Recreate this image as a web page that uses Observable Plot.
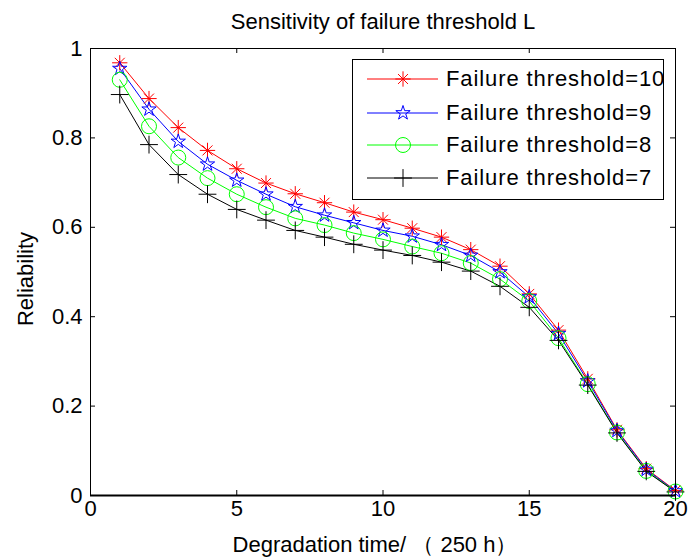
<!DOCTYPE html>
<html><head><meta charset="utf-8">
<script src="https://cdn.jsdelivr.net/npm/d3@7"></script>
<script src="https://cdn.jsdelivr.net/npm/@observablehq/plot@0.6"></script>
<style>
body{margin:0;background:#fff;}
#wrap{position:relative;width:688px;height:559px;font-family:"Liberation Sans",Arial,sans-serif;}
#legend{position:absolute;left:352px;top:59px;width:310px;height:139px;border:1px solid #000;background:#fff;}
.row{position:absolute;left:0;height:34px;width:310px;font-size:22px;color:#000;}
.row svg{position:absolute;left:14px;top:0;}
.row span{position:absolute;left:93px;top:0;line-height:34px;white-space:nowrap;letter-spacing:0.9px;}
</style></head><body><div id="wrap"></div>
<script>
const time = [1,2,3,4,5,6,7,8,9,10,11,12,13,14,15,16,17,18,19,20];
const seriesNames = ["Failure threshold=10","Failure threshold=9","Failure threshold=8","Failure threshold=7"];
const rel10 = [0.968,0.888,0.823,0.772,0.731,0.699,0.675,0.655,0.634,0.617,0.598,0.578,0.550,0.513,0.451,0.370,0.261,0.147,0.060,0.011];
const rel9  = [0.955,0.864,0.792,0.741,0.705,0.674,0.646,0.627,0.610,0.593,0.580,0.561,0.537,0.500,0.444,0.362,0.256,0.145,0.058,0.010];
const rel8  = [0.930,0.826,0.756,0.710,0.674,0.645,0.620,0.605,0.587,0.573,0.557,0.542,0.520,0.484,0.435,0.352,0.249,0.141,0.055,0.009];
const rel7  = [0.897,0.785,0.718,0.674,0.640,0.616,0.593,0.578,0.562,0.549,0.537,0.522,0.502,0.468,0.421,0.347,0.247,0.140,0.054,0.008];
const xTicks = [0,5,10,15,20];
const yTicks = [0,0.2,0.4,0.6,0.8,1];
const colors = ["#ff0000","#0000ff","#00ff00","#000000"];
const titleText = "Sensitivity of failure threshold L";
const xLabel = "Degradation time/ （ 250 h）";
const yLabel = "Reliability";

const allSeries = [rel10, rel9, rel8, rel7];
const rows = allSeries.flatMap((vals, si) => time.map((t, i) => ({t, r: vals[i], s: seriesNames[si]})));
const of = name => rows.filter(d => d.s === name);

const W = 688, H = 559, mL = 90, mR = 13, mT = 48, mB = 64;
const pw = W - mL - mR, ph = H - mT - mB;
const font = "'Liberation Sans', Arial, sans-serif";

const chart = Plot.plot({
  width: W, height: H, marginLeft: mL, marginRight: mR, marginTop: mT, marginBottom: mB,
  style: {fontFamily: font, fontSize: "22px", background: "white", color: "black", overflow: "visible"},
  x: {domain: [0, 20]},
  y: {domain: [0, 1]},
  color: {domain: seriesNames, range: colors},
  marks: [
    Plot.axisX({ticks: xTicks, tickSize: 0, tickPadding: 5, label: null, fontSize: 22, tickFormat: d => String(d)}),
    Plot.axisY({ticks: yTicks, tickSize: 0, tickPadding: 8, label: null, fontSize: 22, tickFormat: d => String(d)}),
    Plot.tickX(xTicks, {x: d => d, insetTop: ph - 5, stroke: "black"}),
    Plot.tickX(xTicks, {x: d => d, insetBottom: ph - 5, stroke: "black"}),
    Plot.tickY(yTicks, {y: d => d, insetLeft: pw - 5, stroke: "black"}),
    Plot.tickY(yTicks, {y: d => d, insetRight: pw - 5, stroke: "black"}),
    Plot.line(rows, {x: "t", y: "r", z: "s", stroke: "s", strokeWidth: 1}),
    Plot.dot(of(seriesNames[0]), {x: "t", y: "r", symbol: "plus", r: 5, stroke: colors[0], strokeWidth: 1}),
    Plot.dot(of(seriesNames[0]), {x: "t", y: "r", symbol: "times", r: 4.6, stroke: colors[0], strokeWidth: 1}),
    Plot.dot(of(seriesNames[1]), {x: "t", y: "r", symbol: "star", r: 4.5, fill: "none", stroke: colors[1], strokeWidth: 1}),
    Plot.dot(of(seriesNames[2]), {x: "t", y: "r", symbol: "circle", r: 7.5, fill: "none", stroke: colors[2], strokeWidth: 1}),
    Plot.dot(of(seriesNames[3]), {x: "t", y: "r", symbol: "plus", r: 5.8, stroke: colors[3], strokeWidth: 1}),
    Plot.frame({stroke: "black", strokeWidth: 1}),
    Plot.ruleY([0], {stroke: "black", strokeWidth: 2}),
    Plot.text([titleText], {text: d => d, frameAnchor: "top", dy: -35, fontSize: 22, textAnchor: "middle"}),
    Plot.text([xLabel], {text: d => d, frameAnchor: "bottom", dx: -8, dy: 56, fontSize: 22, textAnchor: "middle"}),
    Plot.text([yLabel], {text: d => d, frameAnchor: "left", dx: -65, dy: 7, rotate: -90, fontSize: 22, textAnchor: "middle"})
  ]
});
const wrap = document.getElementById("wrap");
wrap.appendChild(chart);

// legend
const legend = document.createElement("div");
legend.id = "legend";
const symbolsFor = [
  [["plus", 5], ["times", 4.6]],
  [["star", 4.5]],
  [["circle", 7.5]],
  [["plus", 5.8]]
];
const d3sym = {plus: d3.symbolPlus, times: d3.symbolTimes, star: d3.symbolStar, circle: d3.symbolCircle};
const rowTops = [2, 36, 68, 101];
seriesNames.forEach((name, i) => {
  const row = document.createElement("div");
  row.className = "row";
  row.style.top = rowTops[i] + "px";
  const svg = d3.create("svg").attr("width", 72).attr("height", 34);
  svg.append("line").attr("x1", 0).attr("x2", 71).attr("y1", 17).attr("y2", 17).attr("stroke", colors[i]).attr("stroke-width", 1);
  symbolsFor[i].forEach(([s, r]) => {
    svg.append("path").attr("transform", "translate(36,17)")
      .attr("d", d3.symbol(d3sym[s], Math.PI * r * r)())
      .attr("fill", "none").attr("stroke", colors[i]).attr("stroke-width", 1);
  });
  row.appendChild(svg.node());
  const sp = document.createElement("span");
  sp.textContent = name;
  row.appendChild(sp);
  legend.appendChild(row);
});
wrap.appendChild(legend);
</script>
</body></html>
